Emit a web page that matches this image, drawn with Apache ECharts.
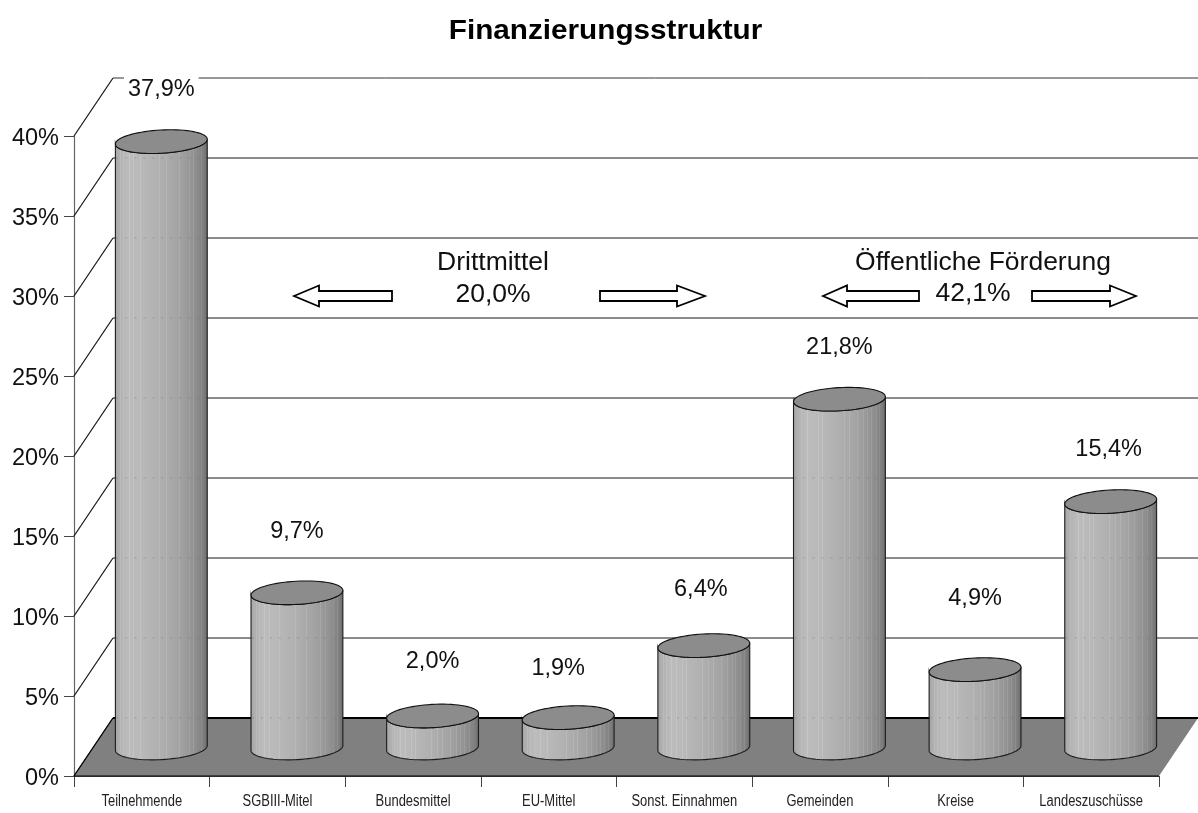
<!DOCTYPE html>
<html>
<head>
<meta charset="utf-8">
<style>html,body{margin:0;padding:0;background:#fff}#c{width:1198px;height:813px}</style>
<script src="https://cdn.jsdelivr.net/npm/echarts@6/dist/echarts.min.js"></script>
</head>
<body>
<div id="c"></div>
<script>
const categories = ['Teilnehmende','SGBIII-Mitel','Bundesmittel','EU-Mittel','Sonst. Einnahmen','Gemeinden','Kreise','Landeszuschüsse'];
const shares = [37.9, 9.7, 2.0, 1.9, 6.4, 21.8, 4.9, 15.4];
const gridValues = [0, 5, 10, 15, 20, 25, 30, 35, 40];
const labelRise = [53, 62, 55, 50, 57, 53, 72, 53];
const labelShift = [0, 0, 0, -10, -3, 0, 0, -2];

const FONT = '"Liberation Sans", Arial, sans-serif';
const DX = 39, DY = -58;
const RX = 46, RY = 11.6, TILT = -3.2 * Math.PI / 180;

function ellipsePt(cx, cy, t) {
  const x = RX * Math.cos(t), y = RY * Math.sin(t);
  return [cx + x * Math.cos(TILT) - y * Math.sin(TILT), cy + x * Math.sin(TILT) + y * Math.cos(TILT)];
}
function arc(cx, cy, from, to, n) {
  const out = [];
  for (let i = 0; i <= n; i++) out.push(ellipsePt(cx, cy, from + (to - from) * i / n));
  return out;
}
// vertical banding of the cylinders
const ramp = [[0,'#a4a4a4'],[0.05,'#b0b0b0'],[0.14,'#bcbcbc'],[0.3,'#b8b8b8'],[0.5,'#afafaf'],[0.7,'#a2a2a2'],[0.85,'#929292'],[0.95,'#808080'],[1,'#6a6a6a']];
const lightBands = [0.06,0.09,0.15,0.2,0.27,0.31,0.48,0.55,0.6,0.69,0.75,0.8,0.84,0.89,0.93];
function shade(p) {
  for (let i = 1; i < ramp.length; i++) {
    if (p <= ramp[i][0]) {
      const [a, ca] = ramp[i-1], [b, cb] = ramp[i];
      const f = (p - a) / (b - a);
      const va = parseInt(ca.slice(1,3),16), vb = parseInt(cb.slice(1,3),16);
      return Math.round(va + (vb - va) * f);
    }
  }
  return 106;
}
function hex(v){ v = Math.min(255, v); const s = v.toString(16).padStart(2,'0'); return '#'+s+s+s; }
const stops = [];
for (let i = 0; i < 100; i++) {
  const p = i / 100;
  if (!lightBands.some(b => p > b - 0.001 && p < b + 0.01)) stops.push({offset: p, color: hex(shade(p))});
}
lightBands.forEach(b => {
  stops.push({offset: b - 0.0001, color: hex(shade(b))});
  stops.push({offset: b, color: hex(shade(b) + 9)});
  stops.push({offset: b + 0.009, color: hex(shade(b) + 9)});
  stops.push({offset: b + 0.0091, color: hex(shade(b + 0.01))});
});
stops.sort((a, b) => a.offset - b.offset);
stops.push({offset: 1, color: hex(shade(1))});
const bodyFill = {type:'linear', x:0, y:0, x2:1, y2:0, colorStops: stops};

function renderWall(params, api) {
  const v = api.value(1);
  const p = api.coord([0, v]);
  const band = api.size([1, 0])[0];
  const x0 = p[0] - band / 2, y0 = p[1];
  const x1 = x0 + band * categories.length;
  return {type:'group', children:[
    {type:'line', shape:{x1:x0, y1:y0, x2:x0+DX, y2:y0+DY}, style:{stroke:'#111', lineWidth:1.2}},
    {type:'line', shape:{x1:x0+DX, y1:y0+DY, x2:x1+DX, y2:y0+DY}, style:{stroke: v === 40 ? '#333' : '#666', lineWidth: v === 40 ? 1 : 1.5}}
  ]};
}
function renderFloor(params, api) {
  const p = api.coord([0, 0]);
  const band = api.size([1, 0])[0];
  const x0 = p[0] - band / 2, y0 = p[1];
  const x1 = x0 + band * categories.length;
  return {type:'group', children:[
    {type:'polygon', shape:{points:[[x0,y0],[x1,y0],[x1+DX,y0+DY],[x0+DX,y0+DY]]}, style:{fill:'#808080', stroke:'none'}},
    {type:'line', shape:{x1:x0+DX,y1:y0+DY,x2:x1+DX,y2:y0+DY}, style:{stroke:'#000', lineWidth:2}},
    {type:'line', shape:{x1:x0,y1:y0,x2:x0+DX,y2:y0+DY}, style:{stroke:'#000', lineWidth:1.2}},
    {type:'line', shape:{x1:x0,y1:y0,x2:x1,y2:y0}, style:{stroke:'#000', lineWidth:1.2}}
  ]};
}
function renderCylinder(params, api) {
  const i = api.value(0), v = api.value(1);
  const base = api.coord([i, 0]);
  const top = api.coord([i, v]);
  const cx = base[0] + DX / 2;
  const by = base[1] + DY / 2 + 1, ty = top[1] + DY / 2 + 1;
  const pts = arc(cx, by, Math.PI, 0, 40).concat(arc(cx, ty, 0, Math.PI, 40));
  const children = [
    {type:'polygon', shape:{points:pts}, style:{fill:bodyFill, stroke:'#1c1c1c', lineWidth:1.1}}
  ];
  gridValues.forEach(g => {
    const gy = api.coord([0, g])[1] + DY;
    if (gy > ty + 8 && gy < by) {
      children.push({type:'line', shape:{x1:cx-RX+1, y1:gy, x2:cx+RX-1, y2:gy},
        style:{stroke:'rgba(110,110,110,0.4)', lineWidth:1.2, lineDash:[2,7]}});
    }
  });
  children.push({type:'polygon', shape:{points:arc(cx, ty, 0, 2*Math.PI, 72)},
    style:{fill:'#8c8c8c', stroke:'#111', lineWidth:1.1}});
  children.push({type:'text', x: cx + labelShift[i], y: ty - labelRise[i] + 1,
    style:{text: v.toFixed(1).replace('.', ',') + '%', fill:'#111', font:'23.5px ' + FONT,
      textAlign:'center', textVerticalAlign:'middle', backgroundColor:'#fff', padding:[1,4,1,4]}});
  return {type:'group', children};
}
function renderCategory(params, api) {
  const i = api.value(0);
  const p = api.coord([i, 0]);
  return {type:'text', x:p[0], y:p[1]+26, scaleX:0.82,
    style:{text:categories[i], font:'15.8px '+FONT, fill:'#222', textAlign:'center', textVerticalAlign:'middle'}};
}
function arrow(tip, neck, end) {
  return {type:'polygon', silent:true, z:20, shape:{points:[[tip,296],[neck,285.5],[neck,291],[end,291],[end,301],[neck,301],[neck,306.5]]},
    style:{fill:'#fff', stroke:'#000', lineWidth:1.8}};
}
function note(text, x, y) {
  return {type:'text', x, y, z:20, silent:true, style:{text, font:'26.5px '+FONT, fill:'#111', textAlign:'center', textVerticalAlign:'middle'}};
}

const chart = echarts.init(document.getElementById('c'), null, {renderer:'canvas', width:1198, height:813});
chart.setOption({
  animation:false,
  backgroundColor:'#fff',
  grid:{left:74, top:136, width:1085, height:640, containLabel:false},
  xAxis:{type:'category', data:categories, boundaryGap:true,
    axisLine:{show:true, onZero:false, lineStyle:{color:'#555', width:1}},
    axisTick:{show:true, alignWithLabel:false, length:11, lineStyle:{color:'#444', width:1}},
    axisLabel:{show:false},
    splitLine:{show:false}},
  yAxis:{type:'value', min:0, max:40, interval:5,
    axisLine:{show:true, lineStyle:{color:'#666', width:1.2}},
    axisTick:{show:true, length:10, lineStyle:{color:'#444', width:1}},
    axisLabel:{margin:15, fontSize:23.5, color:'#111', fontFamily:FONT, formatter:'{value}%', verticalAlign:'top', lineHeight:6},
    splitLine:{show:false}},
  graphic:[
    {type:'text', x:605.5, y:32, scaleX:1.1, silent:true, style:{text:'Finanzierungsstruktur', font:'bold 27px '+FONT, fill:'#000', textAlign:'center', textVerticalAlign:'middle'}},
    note('Drittmittel', 493, 263), note('20,0%', 493, 295),
    note('Öffentliche Förderung', 983, 263), note('42,1%', 973, 294),
    arrow(294, 319, 392), arrow(705, 677, 600),
    arrow(823, 847, 919), arrow(1136, 1110, 1032)
  ],
  series:[
    {type:'custom', z:3, silent:true, renderItem:renderWall, data:gridValues.map(v=>[0,v]), encode:{x:0,y:1}, clip:false},
    {type:'custom', z:4, silent:true, renderItem:renderFloor, data:[[0,0]], encode:{x:0,y:1}, clip:false},
    {type:'custom', z:5, silent:true, renderItem:renderCylinder, data:shares.map((v,i)=>[i,v]), encode:{x:0,y:1}, clip:false},
    {type:'custom', z:6, silent:true, renderItem:renderCategory, data:categories.map((c,i)=>[i,0]), encode:{x:0,y:1}, clip:false}
  ]
});
</script>
</body>
</html>
